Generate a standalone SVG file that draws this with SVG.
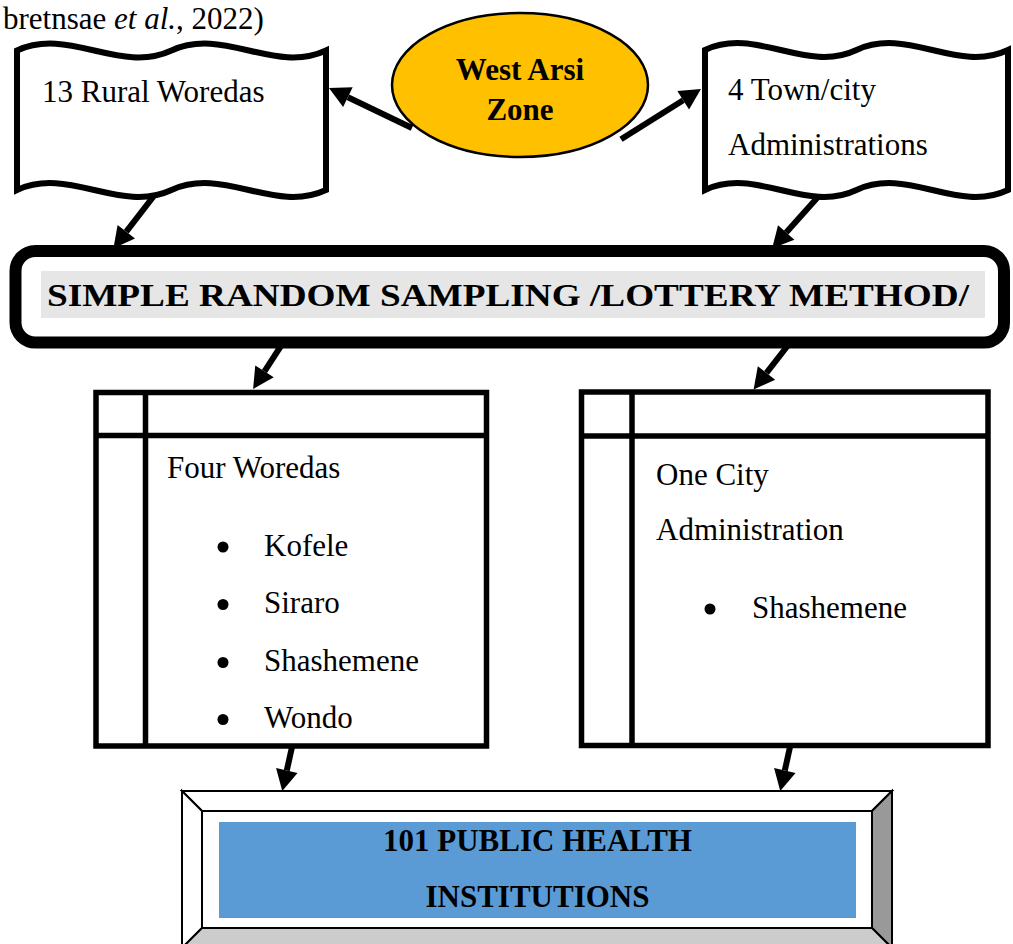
<svg xmlns="http://www.w3.org/2000/svg" width="1013" height="944" viewBox="0 0 1013 944">
<style>
.t{font-family:"Liberation Serif","Times New Roman",serif;font-size:31px;fill:#000}
.b{font-weight:bold}
.wave{fill:#fff;stroke:#000;stroke-width:6;stroke-linejoin:miter}
.tbl{fill:#fff;stroke:#000;stroke-width:5.5}
.tl{stroke:#000;stroke-width:5.5}
.con{fill:none;stroke:#000;stroke-width:6;marker-end:url(#ah)}
.bev{stroke:#000;stroke-width:2;stroke-linejoin:miter}
</style>
<defs>
<marker id="ah" markerUnits="userSpaceOnUse" viewBox="0 -11 21 22" markerWidth="21" markerHeight="22" refX="0" refY="0" orient="auto" overflow="visible">
<path d="M0,-11 L21,0 L0,11 Z" fill="#000"/>
</marker>
</defs>
<rect width="1013" height="944" fill="#fff"/>
<text class="t" x="3" y="29" font-size="31.5">bretnsae <tspan font-style="italic">et al.</tspan>, 2022)</text>
<g id="connectors">
<path class="con" d="M412,128 L347.9,97.2"/>
<path class="con" d="M621,139.3 L683.2,100.2"/>
<path class="con" d="M160,188 L126.3,231.7"/>
<path class="con" d="M826,188 L786.2,232.5"/>
<path class="con" d="M288,335 L264.5,371.4"/>
<path class="con" d="M796,335 L766.5,372.9"/>
<path class="con" d="M294,738 L286.8,770.5"/>
<path class="con" d="M792,738 L784.8,770.5"/>
</g>
<g id="rural">
<path class="wave" d="M17,50.5 C68.5,26.5 120,74.5 171.5,50.5 C223,26.5 274.5,74.5 326,50.5 L326,190 C274.5,214 223,166 171.5,190 C120,214 68.5,166 17,190 Z"/>
<text class="t" x="42" y="102">13 Rural Woredas</text>
</g>
<g id="zone">
<ellipse cx="520" cy="85" rx="128" ry="72" fill="#FFC000" stroke="#000" stroke-width="2.5"/>
<text class="t b" x="520" y="80" text-anchor="middle">West Arsi</text>
<text class="t b" x="520" y="120" text-anchor="middle">Zone</text>
</g>
<g id="town">
<path class="wave" d="M705,50 C755.5,26 806,74 856.5,50 C907,26 957.5,74 1008,50 L1008,190 C957.5,214 907,166 856.5,190 C806,214 755.5,166 705,190 Z"/>
<text class="t" x="728" y="100">4 Town/city</text>
<text class="t" x="728" y="155">Administrations</text>
</g>
<g id="srs">
<rect x="15.5" y="251" width="988.5" height="91.5" rx="20" fill="#fff" stroke="#000" stroke-width="12"/>
<rect x="41" y="271" width="944" height="47" fill="#E6E6E6"/>
<text class="t b" x="47" y="306" font-size="39" textLength="922" lengthAdjust="spacingAndGlyphs">SIMPLE RANDOM SAMPLING /LOTTERY METHOD/</text>
</g>
<g id="woredas">
<rect class="tbl" x="96" y="392.5" width="390.5" height="353.5"/>
<line class="tl" x1="145.5" y1="392.5" x2="145.5" y2="746"/>
<line class="tl" x1="96" y1="435.5" x2="486.5" y2="435.5"/>
<text class="t" x="167" y="478">Four Woredas</text>
<circle cx="223" cy="547" r="5.5"/>
<text class="t" x="264" y="556">Kofele</text>
<circle cx="223" cy="604.5" r="5.5"/>
<text class="t" x="264" y="613">Siraro</text>
<circle cx="223" cy="662.5" r="5.5"/>
<text class="t" x="264" y="671">Shashemene</text>
<circle cx="223" cy="719.5" r="5.5"/>
<text class="t" x="264" y="728">Wondo</text>
</g>
<g id="city">
<rect class="tbl" x="581.5" y="392" width="406.5" height="353.5"/>
<line class="tl" x1="632" y1="392" x2="632" y2="745.5"/>
<line class="tl" x1="581.5" y1="436" x2="988" y2="436"/>
<text class="t" x="656" y="485">One City</text>
<text class="t" x="656" y="540">Administration</text>
<circle cx="710" cy="609" r="5.5"/>
<text class="t" x="752" y="618">Shashemene</text>
</g>
<g id="institutions">
<polygon class="bev" points="182,791 892,791 872,811 202,811" fill="#fff"/>
<polygon class="bev" points="182,791 202,811 202,928 182,948" fill="#fff"/>
<polygon class="bev" points="892,791 892,948 872,928 872,811" fill="#999999"/>
<polygon class="bev" points="182,948 202,928 872,928 892,948" fill="#CCCCCC"/>
<rect class="bev" x="202" y="811" width="670" height="117" fill="#fff"/>
<rect x="219" y="822" width="637" height="96" fill="#5B9BD5"/>
<text class="t b" x="537.5" y="851" font-size="31.5" text-anchor="middle">101 PUBLIC HEALTH</text>
<text class="t b" x="537.5" y="907" font-size="31.5" text-anchor="middle">INSTITUTIONS</text>
</g>
</svg>
